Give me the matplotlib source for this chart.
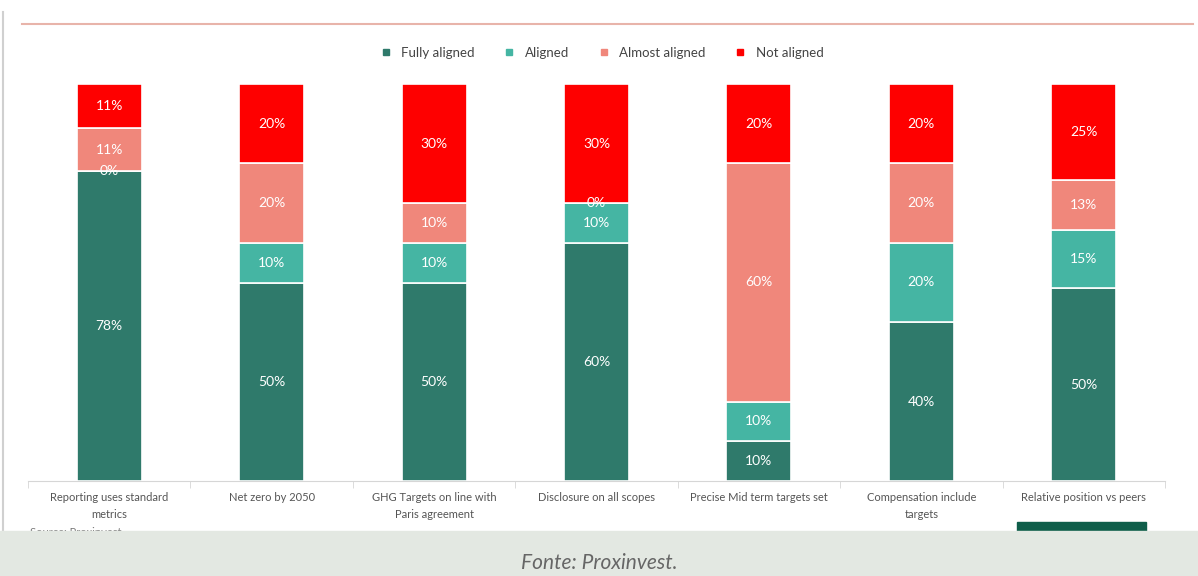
import numpy as np
import matplotlib
matplotlib.use('Agg')
from matplotlib import pyplot as plt
from matplotlib.patches import Rectangle
from matplotlib.lines import Line2D

categories = ['Reporting uses standard\nmetrics', 'Net zero by 2050',
              'GHG Targets on line with\nParis agreement', 'Disclosure on all scopes',
              'Precise Mid term targets set', 'Compensation include\ntargets',
              'Relative position vs peers']
series = ['Fully aligned', 'Aligned', 'Almost aligned', 'Not aligned']
fully = [78, 50, 50, 60, 10, 40, 50]
aligned = [0, 10, 10, 10, 10, 20, 15]
almost = [11, 20, 10, 0, 60, 20, 13]
not_aligned = [11, 20, 30, 30, 20, 20, 25]
colors = ['#2f7a6b', '#45b5a3', '#f0877b', '#fe0000']

plt.rcParams['font.family'] = ['Lato', 'DejaVu Sans']

W, H = 1198, 576
fig = plt.figure(figsize=(W / 100, H / 100), dpi=100)

def fx(px):
    return px / W

def fy(py):
    return 1 - py / H

ax = fig.add_axes([fx(28), fy(481), fx(1165) - fx(28), fy(84) - fy(481)])

data = np.array([fully, aligned, almost, not_aligned], dtype=float)
totals = data.sum(axis=0)
frac = data / totals
x = np.arange(len(categories))
bottom = np.zeros(len(categories))
for i, name in enumerate(series):
    ax.bar(x, frac[i], width=0.4, bottom=bottom, color=colors[i],
           edgecolor='white', linewidth=1.2, label=name)
    for j in range(len(categories)):
        ax.text(x[j], bottom[j] + frac[i][j] / 2, f'{int(data[i][j])}%',
                ha='center', va='center', color='white', fontsize=10)
    bottom += frac[i]

ax.set_xlim(-0.5, len(categories) - 0.5)
ax.set_ylim(0, 1)
ax.set_yticks([])
for s in ['top', 'right', 'left']:
    ax.spines[s].set_visible(False)
ax.spines['bottom'].set_color('#d6d6d6')
ax.set_xticks(x)
ax.set_xticklabels(categories, fontsize=8, color='#555555', linespacing=1.7)
ax.tick_params(axis='x', which='major', length=0, pad=8)
ax.set_xticks(np.arange(-0.5, len(categories)), minor=True)
ax.tick_params(axis='x', which='minor', length=5, color='#d6d6d6')

handles = [Line2D([], [], marker='s', linestyle='none', markersize=5,
                  color=c) for c in colors]
fig.legend(handles, series, loc='center', bbox_to_anchor=(fx(598), fy(53)),
           ncol=4, frameon=False, fontsize=9.5, handletextpad=0.2,
           columnspacing=1.6, labelcolor='#444444')

# decorations around the chart
fig.add_artist(Line2D([fx(22), fx(1193)], [fy(24), fy(24)], color='#e8b4aa', lw=1.5))
fig.add_artist(Line2D([fx(3), fx(3)], [fy(12), fy(531)], color='#d0d0d0', lw=1.5))
fig.text(fx(30), fy(536), 'Source: Proxinvest', fontsize=8, color='#777777')
fig.add_artist(Rectangle((fx(1017), fy(531)), fx(1146) - fx(1017), fy(522) - fy(531),
                         color='#0f5e4a', transform=fig.transFigure))
fig.add_artist(Rectangle((0, 0), 1, fy(531), color='#e3e8e2',
                         transform=fig.transFigure, zorder=5))
fig.text(fx(599), fy(563), 'Fonte: Proxinvest.', ha='center', va='center',
         fontsize=15, style='italic', color='#666666', zorder=6)

fig.savefig('out.png', dpi=100)
